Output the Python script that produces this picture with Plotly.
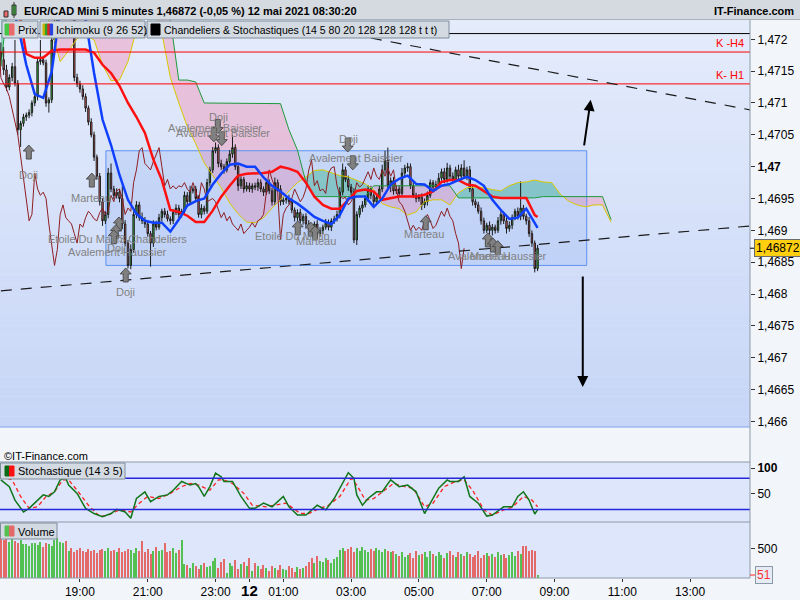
import numpy as np
import pandas as pd
import plotly.graph_objects as go

# EUR/CAD Mini, 5-minute bars from 11 May 2021 16:40 to 12 May 08:30.
# Prices are given in points (1e-5) above 1.46000.
T0 = pd.Timestamp("2021-05-11 16:40")
BASE = 1.46

first_open_pts = 1180
close_pts = [
    1168, 1152, 1125, 1140, 1157, 1131, 1058, 1068, 1078, 1081,
    1085, 1100, 1110, 1165, 1168, 1163, 1100, 1105, 1199, 1215,
    1245, 1260, 1270, 1255, 1265, 1240, 1140, 1130, 1122, 1110,
    1092, 1070, 1050, 1015, 985, 945, 915, 925, 990, 965,
    955, 960, 950, 910, 880, 845, 870, 925, 940, 920,
    915, 910, 895, 880, 910, 905, 920, 930, 925, 918,
    915, 928, 935, 925, 930, 955, 945, 962, 965, 950,
    925, 935, 930, 975, 995, 1025, 1030, 1005, 1000, 995,
    1008, 1020, 1030, 1000, 970, 980, 965, 970, 965, 970,
    968, 975, 965, 960, 975, 962, 945, 975, 965, 945,
    948, 950, 945, 932, 920, 928, 915, 922, 910, 905,
    900, 910, 895, 900, 905, 912, 905, 915, 918, 925,
    960, 995, 980, 968, 960, 885, 925, 935, 940, 950,
    965, 955, 945, 952, 965, 995, 1010, 970, 978, 962,
    965, 958, 990, 998, 1000, 970, 955, 950, 952, 940,
    945, 955, 975, 968, 972, 982, 992, 980, 998, 985,
    980, 995, 985, 998, 985, 995, 965, 945, 940, 930,
    915, 900, 908, 900, 905, 900, 915, 925, 915, 903,
    908, 920, 930, 922, 935, 922, 915, 895, 880, 840,
    872,
]
upper_wick_pts = [
    15, 20, 8, 5, 6, 42, 5, 4, 5, 4,
    5, 4, 6, 5, 31, 6, 5, 4, 8, 25,
    20, 25, 15, 20, 30, 20, 10, 6, 5, 6,
    5, 4, 6, 5, 4, 5, 6, 5, 8, 15,
    5, 6, 5, 20, 6, 5, 8, 5, 6, 5,
    8, 6, 5, 4, 6, 5, 6, 4, 5, 6,
    4, 5, 6, 5, 4, 6, 5, 8, 4, 5,
    5, 6, 4, 6, 5, 6, 8, 5, 6, 4,
    5, 6, 20, 5, 6, 5, 4, 6, 5, 4,
    5, 6, 5, 4, 6, 5, 5, 8, 5, 6,
    4, 5, 6, 5, 4, 5, 6, 4, 5, 6,
    5, 4, 6, 5, 4, 6, 5, 4, 5, 6,
    8, 10, 5, 6, 5, 6, 5, 4, 6, 5,
    6, 5, 4, 6, 5, 8, 15, 20, 5, 6,
    5, 6, 8, 5, 6, 5, 6, 4, 5, 6,
    5, 6, 5, 4, 6, 8, 5, 6, 8, 5,
    6, 5, 8, 6, 12, 5, 6, 5, 4, 5,
    6, 5, 4, 6, 5, 4, 6, 5, 4, 5,
    6, 5, 4, 6, 42, 5, 4, 6, 5, 4,
    5,
]
lower_wick_pts = [
    10, 8, 6, 5, 6, 5, 8, 27, 5, 6,
    5, 6, 5, 6, 5, 4, 6, 15, 5, 6,
    10, 10, 10, 10, 10, 10, 6, 5, 6, 5,
    6, 5, 4, 6, 5, 6, 8, 5, 6, 5,
    6, 5, 6, 8, 5, 5, 6, 5, 6, 5,
    5, 6, 5, 37, 6, 5, 4, 6, 5, 4,
    6, 5, 4, 6, 5, 4, 6, 5, 4, 6,
    5, 6, 5, 4, 6, 5, 4, 6, 5, 6,
    4, 5, 6, 5, 8, 5, 6, 4, 5, 6,
    5, 6, 5, 6, 4, 5, 6, 5, 4, 6,
    5, 6, 4, 5, 6, 5, 4, 6, 5, 6,
    5, 4, 6, 5, 6, 4, 5, 6, 5, 4,
    6, 5, 4, 6, 5, 5, 8, 5, 6, 4,
    5, 6, 5, 4, 6, 5, 6, 5, 10, 6,
    5, 6, 4, 5, 6, 5, 4, 6, 5, 8,
    5, 6, 4, 5, 6, 5, 4, 6, 5, 6,
    5, 4, 6, 5, 4, 6, 5, 6, 5, 4,
    6, 5, 4, 6, 8, 5, 4, 6, 5, 8,
    5, 6, 4, 5, 6, 5, 6, 5, 6, 6,
    4,
]
volume = [
    680, 650, 700, 620, 690, 640, 600, 660, 580, 590,
    560, 610, 600, 570, 620, 540, 600, 590, 560, 650,
    690, 620, 600, 640, 470, 510, 450, 490, 520, 470,
    440, 500, 460, 480, 430, 490, 500, 470, 520, 460,
    480, 450, 510, 440, 470, 500, 480, 430, 520, 470,
    640, 450, 500, 420, 470, 530, 460, 490, 600, 440,
    470, 510, 430, 480, 650, 240, 220, 180, 250, 200,
    150, 230, 260, 190, 210, 300, 350, 180, 270, 320,
    90, 260, 200, 310, 150, 240, 280, 200, 340, 120,
    260, 200, 150, 230, 180, 120, 210, 170, 140, 220,
    160, 130, 200, 180, 110, 190, 150, 170, 210, 280,
    340, 250, 380, 300, 270, 350, 310, 260, 330, 370,
    480, 520, 460, 500, 530, 450, 510, 470, 540, 490,
    440, 500, 470, 520, 480, 450, 500, 460, 440, 470,
    420, 380, 450, 360, 400, 430, 350, 470, 390, 410,
    440, 370, 460, 420, 380, 450, 400, 340, 430, 470,
    390, 360, 440, 410, 380, 450, 420, 370, 400, 460,
    350, 390, 430, 380, 410, 360, 440, 390, 420, 350,
    400, 440, 380, 460, 410, 550, 560, 470, 480, 470,
    51,
]

# Ichimoku (9 26 52), read every 3 bars
ichi_bars = list(range(0, 190, 3)) + [190]
tenkan_pts = [
    1262, 1262, 1223, 1160, 1114, 1108, 1149, 1246, 1262, 1262,
    1231, 1147, 1074, 1034, 987, 948, 926, 915, 912, 912,
    898, 917, 939, 946, 950, 972, 989, 1003, 1005, 1000,
    1000, 983, 970, 961, 950, 942, 932, 921, 915, 910,
    924, 950, 953, 953, 937, 950, 972, 981, 986, 973,
    972, 962, 970, 973, 979, 984, 979, 970, 948, 932,
    918, 920, 934, 910, 904,
]
kijun_pts = [
    1262, 1262, 1254, 1177, 1171, 1171, 1182, 1184, 1184, 1184,
    1184, 1179, 1160, 1147, 1127, 1100, 1078, 1053, 1011, 979,
    932, 929, 923, 913, 913, 931, 953, 970, 986, 989,
    989, 990, 992, 1000, 997, 992, 975, 953, 940, 934,
    934, 948, 962, 964, 961, 948, 951, 953, 953, 953,
    956, 961, 976, 979, 979, 972, 970, 962, 953, 951,
    951, 951, 951, 924, 921,
]
cloud_bars = list(range(0, 217, 3))
senkou_a_pts = [
    1254, 1262, 1262, 1262, 1262, 1254, 1215, 1165, 1182, 1201,
    1207, 1199, 1160, 1135, 1136, 1165, 1215, 1246, 1249, 1210,
    1140, 1100, 1063, 1036, 1006, 986, 967, 943, 926, 913,
    912, 920, 935, 948, 961, 975, 984, 994, 995, 990,
    986, 984, 979, 973, 964, 942, 937, 934, 924, 929,
    945, 948, 948, 940, 959, 967, 968, 967, 964, 962,
    970, 975, 976, 979, 976, 975, 957, 946, 940, 937,
    940, 940, 913,
]
senkou_b_pts = [
    1157, 1278, 1278, 1278, 1278, 1278, 1278, 1278, 1278, 1278,
    1278, 1278, 1278, 1278, 1278, 1278, 1278, 1278, 1278, 1278,
    1231, 1136, 1136, 1133, 1100, 1100, 1100, 1100, 1100, 1100,
    1100, 1100, 1100, 1099, 1058, 1026, 976, 953, 953, 953,
    953, 953, 953, 953, 970, 970, 970, 970, 970, 970,
    970, 970, 970, 970, 951, 951, 951, 951, 951, 951,
    951, 951, 951, 951, 953, 953, 953, 953, 953, 953,
    953, 953, 917,
]
CHIKOU_SHIFT = 26

# Stochastique (14 3 5)
stoch_k_bars = [0, 3, 5, 8, 10, 13, 15, 17, 19, 21, 23, 24, 27, 30, 33, 36, 39, 41, 44, 46,
                48, 51, 53, 56, 59, 61, 64, 67, 69, 70, 72, 74, 76, 78, 79, 82, 85, 88, 90, 93,
                96, 100, 102, 105, 108, 112, 115, 118, 120, 123, 125, 126, 128, 130, 133, 135,
                138, 141, 144, 147, 150, 153, 155, 158, 159, 162, 164, 166, 169, 172, 174, 178,
                181, 183, 185, 187, 189, 190]
stoch_k = [77, 64, 38, 15, 22, 38, 48, 45, 54, 77, 80, 67, 51, 22, 12, 6, 12, 20, 15, 3,
           41, 54, 35, 45, 48, 57, 74, 67, 70, 64, 45, 64, 90, 83, 74, 74, 45, 22, 22, 32,
           25, 45, 25, 9, 9, 28, 19, 41, 61, 91, 80, 48, 28, 41, 54, 54,
           77, 64, 67, 54, 12, 41, 61, 77, 74, 74, 83, 45, 32, 7, 9, 25,
           25, 45, 54, 38, 11, 19]
stoch_d_bars = [0, 4, 7, 10, 13, 16, 19, 22, 24, 27, 31, 35, 38, 42, 46, 49, 52, 56, 60, 64,
                67, 70, 74, 77, 79, 82, 86, 89, 94, 97, 101, 106, 109, 113, 116, 120, 124, 126,
                129, 132, 135, 139, 143, 146, 150, 153, 157, 161, 164, 167, 171, 174, 178, 181,
                185, 188, 190]
stoch_d = [83, 77, 45, 22, 25, 45, 54, 77, 77, 57, 28, 6, 9, 19, 15, 32, 45, 41, 51, 64,
           70, 67, 57, 77, 77, 70, 51, 28, 25, 28, 32, 12, 12, 22, 28, 45, 80, 67,
           38, 41, 54, 70, 64, 61, 25, 32, 64, 74, 77, 57, 19, 9, 19, 24,
           45, 38, 25]

# drawing objects on the price chart
levels = [("K -H4", 1.4718), ("K- H1", 1.4713)]
top_level = 1.47209
box_bars, box_prices = [37.2, 207.4], [1.46845, 1.47025]
support_bars, support_prices = [0, 265.5], [1.46805, 1.46907]
resist_bars, resist_prices = [131, 265.5], [1.47202, 1.47089]
up_arrow = ([206.4, 208.8], [1.47031, 1.47105])      # tail, head
down_arrow = ([206.0, 206.0], [1.46830, 1.46654])

# candle-pattern detections
pat_up_bars = [9.9, 32.2, 41.8, 40.7, 40.0, 44.2, 105.1, 109.7, 111.2, 150.4, 172.4, 174.2, 175.9]
pat_up_pts = [1023, 979, 910, 898, 890, 830, 904, 902, 896, 912, 885, 877, 873]
pat_dn_bars = [76.8, 75.4, 78.2, 122.8, 124.6]
pat_dn_pts = [1063, 1050, 1044, 1034, 1006]
pat_names = ["Doji", "Marteau", "Etoile Du Matin", "3 Chandeliers", "Avalement Haussier", "Doji",
             "Doji", "Doji", "Avalement Baissier", "Avalement Baissier", "Etoile Du Matin",
             "Marteau", "Doji", "Avalement Baissier", "Marteau", "Marteau", "Avalement Haussier"]
pat_name_bars = [9.9, 31.9, 30.1, 53.8, 41.4, 41.1, 44.2, 77.2, 75.8, 78.6, 103.4, 111.5,
                 123.2, 125.7, 149.7, 173.1, 175.9]
pat_name_pts = [987, 951, 887, 887, 866, 873, 804, 1078, 1061, 1053, 891, 884, 1044, 1014,
                895, 860, 860]

last_price = 1.46872
last_volume = 51

# ---------------------------------------------------------------------------
def P(pts):
    return BASE + np.asarray(pts, dtype=float) / 1e5

bars = np.arange(len(close_pts))
close = P(close_pts)
open_ = np.r_[P(first_open_pts), close[:-1]]
high = np.maximum(open_, close) + np.array(upper_wick_pts) / 1e5
low = np.minimum(open_, close) - np.array(lower_wick_pts) / 1e5
vol_colors = np.where(close >= open_, "#52C152", "#E46A6A")

FONT = "Liberation Sans, Arial, sans-serif"
PW, PT, PB = 750, 20, 578          # plot area in pixels


def px(x):
    return x / PW


def py(y):
    return (PB - y) / (PB - PT)


fig = go.Figure()
fig.add_trace(go.Bar(x=bars, y=volume, yaxis="y3", width=0.4,
                     marker=dict(color=vol_colors, line=dict(width=0))))
fig.add_trace(go.Candlestick(
    x=bars, open=open_, high=high, low=low, close=close, whiskerwidth=0,
    increasing=dict(fillcolor="#3FCB3F", line=dict(color="#1a1a1a", width=1)),
    decreasing=dict(fillcolor="#EE6A6A", line=dict(color="#1a1a1a", width=1))))
fig.add_trace(go.Scatter(x=cloud_bars, y=P(senkou_a_pts), mode="lines",
                         line=dict(color="#D9C800", width=1)))
fig.add_trace(go.Scatter(x=cloud_bars, y=P(senkou_b_pts), mode="lines",
                         line=dict(color="#1E9A3C", width=1)))
fig.add_trace(go.Scatter(x=bars - CHIKOU_SHIFT, y=close, mode="lines",
                         line=dict(color="#8E1E22", width=1)))
fig.add_trace(go.Scatter(x=ichi_bars, y=P(kijun_pts), mode="lines",
                         line=dict(color="#FF1010", width=2.5)))
fig.add_trace(go.Scatter(x=ichi_bars, y=P(tenkan_pts), mode="lines",
                         line=dict(color="#1040FF", width=2.5)))
fig.add_trace(go.Scatter(x=stoch_d_bars, y=stoch_d, yaxis="y2", mode="lines",
                         line=dict(color="#FF2020", width=1.3, dash="4px,3px")))
fig.add_trace(go.Scatter(x=stoch_k_bars, y=stoch_k, yaxis="y2", mode="lines",
                         line=dict(color="#11761A", width=1.5)))

shapes = []
# main panel gradient
top_c, bot_c = np.array([229, 236, 252]), np.array([199, 214, 247])
n = 40
for j in range(n):
    c = top_c + (bot_c - top_c) * (j + 0.5) / n
    shapes.append(dict(type="rect", xref="paper", yref="paper", layer="below",
                       x0=0, x1=1, y0=py(PT + (427 - PT) * (j + 1) / n),
                       y1=py(PT + (427 - PT) * j / n),
                       fillcolor="rgb(%d,%d,%d)" % tuple(c), line=dict(width=0)))

# Kumo fills (pink when senkou B is above A, green otherwise)
def cloud_segments(xs, a, b):
    segs, cur = [], a[0] >= b[0]
    sx, sa, sb = [xs[0]], [a[0]], [b[0]]
    for i in range(1, len(xs)):
        s = a[i] >= b[i]
        if s != cur:
            d0, d1 = a[i - 1] - b[i - 1], a[i] - b[i]
            f = d0 / (d0 - d1)
            xc = xs[i - 1] + f * (xs[i] - xs[i - 1])
            yc = a[i - 1] + f * (a[i] - a[i - 1])
            sx.append(xc); sa.append(yc); sb.append(yc)
            segs.append((cur, sx, sa, sb))
            sx, sa, sb, cur = [xc], [yc], [yc], s
        sx.append(xs[i]); sa.append(a[i]); sb.append(b[i])
    segs.append((cur, sx, sa, sb))
    return segs


for bull, sx, sa, sb in cloud_segments(cloud_bars, P(senkou_a_pts), P(senkou_b_pts)):
    pts = list(zip(sx, sa)) + list(zip(sx[::-1], sb[::-1]))
    path = "M" + " L".join("%.3f,%.6f" % p for p in pts) + " Z"
    shapes.append(dict(type="path", xref="x", yref="y", layer="below", path=path,
                       fillcolor="rgba(110,200,170,0.70)" if bull else "rgba(236,170,200,0.62)",
                       line=dict(width=0)))

shapes.append(dict(type="rect", xref="x", yref="y", layer="below",
                   x0=box_bars[0], x1=box_bars[1], y0=box_prices[0], y1=box_prices[1],
                   fillcolor="rgba(95,140,235,0.16)", line=dict(color="#5E93F2", width=1)))
for _, lv in levels:
    shapes.append(dict(type="line", xref="paper", yref="y", x0=0, x1=1, y0=lv, y1=lv,
                       line=dict(color="#FF0000", width=1)))
shapes.append(dict(type="line", xref="paper", yref="y", x0=0, x1=1, y0=top_level,
                   y1=top_level, line=dict(color="#000000", width=1)))
for xs, ys in [(support_bars, support_prices), (resist_bars, resist_prices)]:
    shapes.append(dict(type="line", xref="x", yref="y", x0=xs[0], x1=xs[1], y0=ys[0],
                       y1=ys[1], line=dict(color="#1a1a1a", width=1.2, dash="11px,9px")))

# pattern arrows (fixed pixel size)
up_path = "M0,7 L5.5,1 L2.5,1 L2.5,-7 L-2.5,-7 L-2.5,1 L-5.5,1 Z"
dn_path = "M0,-7 L5.5,-1 L2.5,-1 L2.5,7 L-2.5,7 L-2.5,-1 L-5.5,-1 Z"
for bx, bp in zip(pat_up_bars, P(pat_up_pts)):
    shapes.append(dict(type="path", xref="x", yref="y", xsizemode="pixel", ysizemode="pixel",
                       xanchor=bx, yanchor=bp, path=up_path, fillcolor="#808080",
                       line=dict(color="#505050", width=1)))
for bx, bp in zip(pat_dn_bars, P(pat_dn_pts)):
    shapes.append(dict(type="path", xref="x", yref="y", xsizemode="pixel", ysizemode="pixel",
                       xanchor=bx, yanchor=bp, path=dn_path, fillcolor="#808080",
                       line=dict(color="#505050", width=1)))

# stochastic bands
for lv in (80, 20):
    shapes.append(dict(type="line", xref="paper", yref="y2", x0=0, x1=1, y0=lv, y1=lv,
                       line=dict(color="#2626DC", width=1.5)))

# panel separators and frame
for yy, col in [(427, "#7FA3EC"), (462, "#8C9AA8"), (522, "#8C9AA8"), (578, "#8C9AA8")]:
    shapes.append(dict(type="line", xref="paper", yref="paper", x0=0, x1=1,
                       y0=py(yy), y1=py(yy), line=dict(color=col, width=1)))
shapes.append(dict(type="line", xref="paper", yref="paper", x0=1, x1=1, y0=0, y1=1,
                   line=dict(color="#8C9AA8", width=1)))

# header strip and legend boxes
shapes.append(dict(type="rect", xref="paper", yref="paper", x0=px(-2), x1=px(802),
                   y0=py(19.5), y1=py(-2), fillcolor="#D4DAE0",
                   line=dict(color="#A7B1BB", width=1)))


def box(x0, x1, y0, y1, fill, line="#7F8D9B"):
    shapes.append(dict(type="rect", xref="paper", yref="paper", x0=px(x0), x1=px(x1),
                       y0=py(y1), y1=py(y0), fillcolor=fill, line=dict(color=line, width=1)))


for x0, x1 in [(2, 38), (40, 145), (147, 449)]:
    box(x0, x1, 21, 38, "#D3DAE2")
box(0.5, 125, 463, 479, "#D3DAE2")
box(0.5, 57, 523, 539, "#D3DAE2")
# icons
box(5, 9.5, 24, 35, "#46C646", "#46C646"); box(9.5, 14, 24, 35, "#E86A6A", "#E86A6A")
for i, col in enumerate(["#C8B400", "#2E9F2E", "#E02424", "#2442E0"]):
    box(43 + 2.4 * i, 45.4 + 2.4 * i, 24, 35, col, col)
box(151, 160, 24, 35, "#000000", "#000000")
box(5, 9.5, 466, 476, "#0B6B14", "#0B6B14"); box(9.5, 14, 466, 476, "#FF1010", "#FF1010")
box(5, 9.5, 526, 536, "#52C152", "#52C152"); box(9.5, 14, 526, 536, "#E46A6A", "#E46A6A")
# header candle icon
box(4, 8, 11, 17, "#E86A6A", "#333333"); box(12, 16, 5, 15, "#46C646", "#333333")
shapes.append(dict(type="line", xref="paper", yref="paper", x0=px(14), x1=px(14),
                   y0=py(18), y1=py(2), line=dict(color="#333333", width=1)))
# price and volume markers on the axis
shapes.append(dict(type="line", xref="paper", yref="y", x0=1, x1=px(755), y0=last_price,
                   y1=last_price, line=dict(color="#000000", width=1)))
shapes.append(dict(type="line", xref="paper", yref="y3", x0=1, x1=px(755), y0=last_volume,
                   y1=last_volume, line=dict(color="#FF2020", width=1)))

ann = []


def text(x, y, s, size=12, color="#000000", anchor="left", xref="paper", yref="paper", **kw):
    ann.append(dict(x=x, y=y, xref=xref, yref=yref, text=s, showarrow=False,
                    xanchor=anchor, yanchor="middle",
                    font=dict(family=FONT, size=size, color=color), **kw))


text(px(22), py(11), "<b>EUR/CAD Mini 5 minutes 1,46872 (-0,05 %) 12 mai 2021 08:30:20</b>", 11)
text(px(796), py(11), "<b>IT-Finance.com</b>", 11, anchor="right")
text(px(16), py(30), "Prix", 11)
text(px(54), py(30), "Ichimoku (9 26 52)", 11)
text(px(162), py(30), "Chandeliers & Stochastiques (14 5 80 20 128 128 128 t t t)", 10.5)
text(px(16), py(471.5), "Stochastique (14 3 5)", 11)
text(px(16), py(531.5), "Volume", 11)
text(px(2), py(456), "©IT-Finance.com", 11)
for name, lv in levels:
    ann.append(dict(x=px(746), y=lv, xref="paper", yref="y", text=name, showarrow=False,
                    xanchor="right", yanchor="bottom", yshift=1,
                    font=dict(family=FONT, size=11, color="#FF0000")))
for name, bx, bp in zip(pat_names, pat_name_bars, P(pat_name_pts)):
    text(bx, bp, name, 11, "#828282", anchor="center", xref="x", yref="y")
text(px(754), last_price, "1,46872", 12, bgcolor="#FFCF10", bordercolor="#6B6B6B",
     borderwidth=1, borderpad=1, yref="y")
text(px(755), last_volume, "51", 12, "#FF3030", bgcolor="#E6ECF6", bordercolor="#8C9AA8",
     borderwidth=1, borderpad=1, yref="y3")
for (tx, hx), (ty, hy) in [(up_arrow[0], up_arrow[1]), (down_arrow[0], down_arrow[1])]:
    ann.append(dict(x=hx, y=hy, ax=tx, ay=ty, xref="x", yref="y", axref="x", ayref="y",
                    text="", showarrow=True, arrowhead=2, arrowsize=1.1, arrowwidth=2,
                    arrowcolor="#000000", standoff=0))

# axes
times = pd.date_range(T0, periods=266, freq="5min")
tick_idx = [i for i, t in enumerate(times) if i > 12 and t.minute == 0
            and (t.hour % 2 == 1 or t.hour == 0)]
tick_txt = ['<b><span style="font-size:15px">%d</span></b>' % times[i].day
            if times[i].hour == 0 else times[i].strftime("%H:%M") for i in tick_idx]

price_ticks = np.round(np.arange(1.466, 1.47201, 0.0005), 4)
price_txt = []
for v in price_ticks:
    s = ("%.4f" % v).rstrip("0").rstrip(".").replace(".", ",")
    price_txt.append("<b>%s</b>" % s if abs(v - 1.47) < 1e-9 else s)

axis_font = dict(family=FONT, size=12, color="#000000")
common_y = dict(side="right", anchor="x", showgrid=False, zeroline=False, ticks="outside",
                ticklen=4, tickcolor="#333333", tickfont=axis_font, fixedrange=True)

fig.update_layout(
    width=800, height=600, showlegend=False,
    margin=dict(l=0, r=50, t=20, b=22),
    paper_bgcolor="#F2F5FA", plot_bgcolor="#DDE6FB",
    font=dict(family=FONT, size=12),
    bargap=0,
    xaxis=dict(domain=[0, 1], range=[-0.3, 265.2], anchor="y3", showgrid=False,
               zeroline=False, ticks="outside", ticklen=3, tickcolor="#333333",
               tickvals=tick_idx, ticktext=tick_txt, tickfont=axis_font,
               rangeslider=dict(visible=False), fixedrange=True),
    yaxis=dict(domain=[py(427), 1], range=[1.465913, 1.472303], tickvals=price_ticks,
               ticktext=price_txt, **common_y),
    yaxis2=dict(domain=[py(522), py(462)], range=[-4.4, 111.6], tickvals=[50, 100],
                ticktext=["50", "<b>100</b>"], **common_y),
    yaxis3=dict(domain=[0, py(522)], range=[0, 965], tickvals=[500], ticktext=["500"],
                **common_y),
    shapes=shapes, annotations=ann,
)
for tr in fig.data:
    tr.hoverinfo = "skip"

fig.write_html("out.html", config={"displayModeBar": False},
               post_script="document.body.style.margin='0';")
